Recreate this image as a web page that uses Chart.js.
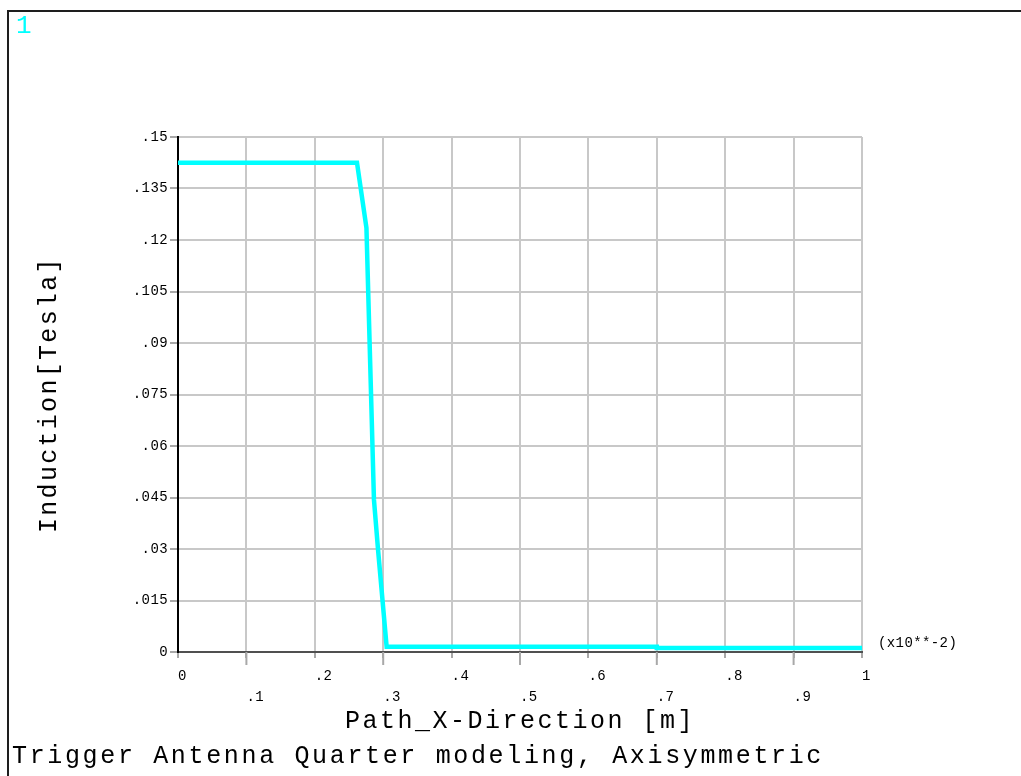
<!DOCTYPE html>
<html>
<head>
<meta charset="utf-8">
<title>Induction along Path_X-Direction</title>
<script src="https://cdn.jsdelivr.net/npm/chart.js@4/dist/chart.umd.min.js"></script>
<style>
  html, body { margin: 0; padding: 0; background: #ffffff; }
  canvas { display: block; }
</style>
</head>
<body>
<canvas id="plot" width="1021" height="776"></canvas>
<script>
// Path position (x10**-2 m) and magnetic induction (Tesla) along the path
const pathX = [0, 0.2617, 0.2755, 0.2865, 0.2925, 0.305, 0.70, 0.70, 1.0];
const induction = [0.1425, 0.1425, 0.1235, 0.0443, 0.0297, 0.00155, 0.00155, 0.00115, 0.00115];

// Axis ranges and tick steps
const xRange = [0, 1];
const xStep = 0.1;
const yRange = [0, 0.15];
const yStep = 0.015;

// Text drawn around the plot
const windowNumber = '1';
const plotTitle = 'Trigger Antenna Quarter modeling, Axisymmetric';
const xTitle = 'Path_X-Direction [m]';
const yTitle = 'Induction[Tesla]';
const xMultiplier = '(x10**-2)';

const FONT = '"Liberation Mono", "DejaVu Sans Mono", monospace';
const GRID = '#c8c8c8';

// ANSYS style number labels: ".15", ".135", "0", "1"
function fmt(v) {
  const r = +(+v).toFixed(4);
  if (r === 0) return '0';
  return String(r).replace(/^0\./, '.');
}

const decorations = {
  id: 'decorations',
  beforeDraw(chart) {
    const ctx = chart.ctx;
    ctx.fillStyle = '#ffffff';
    ctx.fillRect(0, 0, chart.width, chart.height);
    ctx.letterSpacing = '0.4px';
  },
  afterDraw(chart) {
    const ctx = chart.ctx;
    const xs = chart.scales.x;
    ctx.save();

    // longer tick marks for the lower label row
    ctx.strokeStyle = '#a8a8a8';
    ctx.lineWidth = 2;
    xs.ticks.forEach((t, i) => {
      if (i % 2 === 1) {
        const px = xs.getPixelForValue(t.value);
        ctx.beginPath();
        ctx.moveTo(px, xs.top);
        ctx.lineTo(px, xs.top + 13);
        ctx.stroke();
      }
    });

    // frame
    ctx.fillStyle = '#1e1e1e';
    ctx.fillRect(7, 10, chart.width - 7, 2);
    ctx.fillRect(7, 10, 2, chart.height - 10);

    // window number
    ctx.letterSpacing = '0px';
    ctx.fillStyle = '#00ffff';
    ctx.font = '26px ' + FONT;
    ctx.textAlign = 'left';
    ctx.textBaseline = 'alphabetic';
    ctx.fillText(windowNumber, 16, 33);

    // multiplier of the x axis
    ctx.letterSpacing = '0.4px';
    ctx.fillStyle = '#000000';
    ctx.font = '14px ' + FONT;
    ctx.textBaseline = 'middle';
    ctx.fillText(xMultiplier, xs.right + 16, xs.top - 9);

    // titles
    ctx.letterSpacing = '2.5px';
    ctx.font = '25px ' + FONT;
    ctx.textBaseline = 'alphabetic';
    ctx.fillText(xTitle, 345, 728);
    ctx.letterSpacing = '2.65px';
    ctx.fillText(plotTitle, 12, 763);

    ctx.letterSpacing = '2.3px';
    ctx.translate(56, 533);
    ctx.rotate(-Math.PI / 2);
    ctx.fillText(yTitle, 0, 0);

    ctx.restore();
  }
};

new Chart(document.getElementById('plot'), {
  type: 'line',
  data: {
    datasets: [{
      data: pathX.map((x, i) => ({ x: x, y: induction[i] })),
      borderColor: '#00ffff',
      borderWidth: 4.5,
      pointRadius: 0,
      tension: 0,
      fill: false
    }]
  },
  options: {
    responsive: false,
    animation: false,
    events: [],
    layout: { padding: { top: 137, right: 159, left: 0, bottom: 0 } },
    plugins: {
      legend: { display: false },
      tooltip: { enabled: false },
      title: { display: false }
    },
    scales: {
      x: {
        type: 'linear',
        min: xRange[0],
        max: xRange[1],
        afterFit(scale) { scale.height = 124; },
        ticks: {
          stepSize: xStep,
          autoSkip: false,
          maxRotation: 0,
          minRotation: 0,
          align: 'start',
          padding: 7.5,
          color: '#000000',
          font: { family: FONT, size: 14, lineHeight: 21 / 14 },
          callback(value, index) {
            const s = fmt(value);
            return index % 2 === 0 ? [s, ''] : ['', s];
          }
        },
        grid: { color: GRID, lineWidth: 2, tickLength: 6, tickColor: '#a8a8a8', tickWidth: 2 },
        border: { color: '#505050', width: 2 }
      },
      y: {
        type: 'linear',
        min: yRange[0],
        max: yRange[1],
        afterFit(scale) { scale.width = 178; },
        ticks: {
          stepSize: yStep,
          autoSkip: false,
          padding: 2,
          color: '#000000',
          font: { family: FONT, size: 14 },
          callback(value) { return fmt(value); }
        },
        grid: { color: GRID, lineWidth: 2, tickLength: 8, tickColor: '#a8a8a8', tickWidth: 2 },
        border: { color: '#000000', width: 2 }
      }
    }
  },
  plugins: [decorations]
});
</script>
</body>
</html>
